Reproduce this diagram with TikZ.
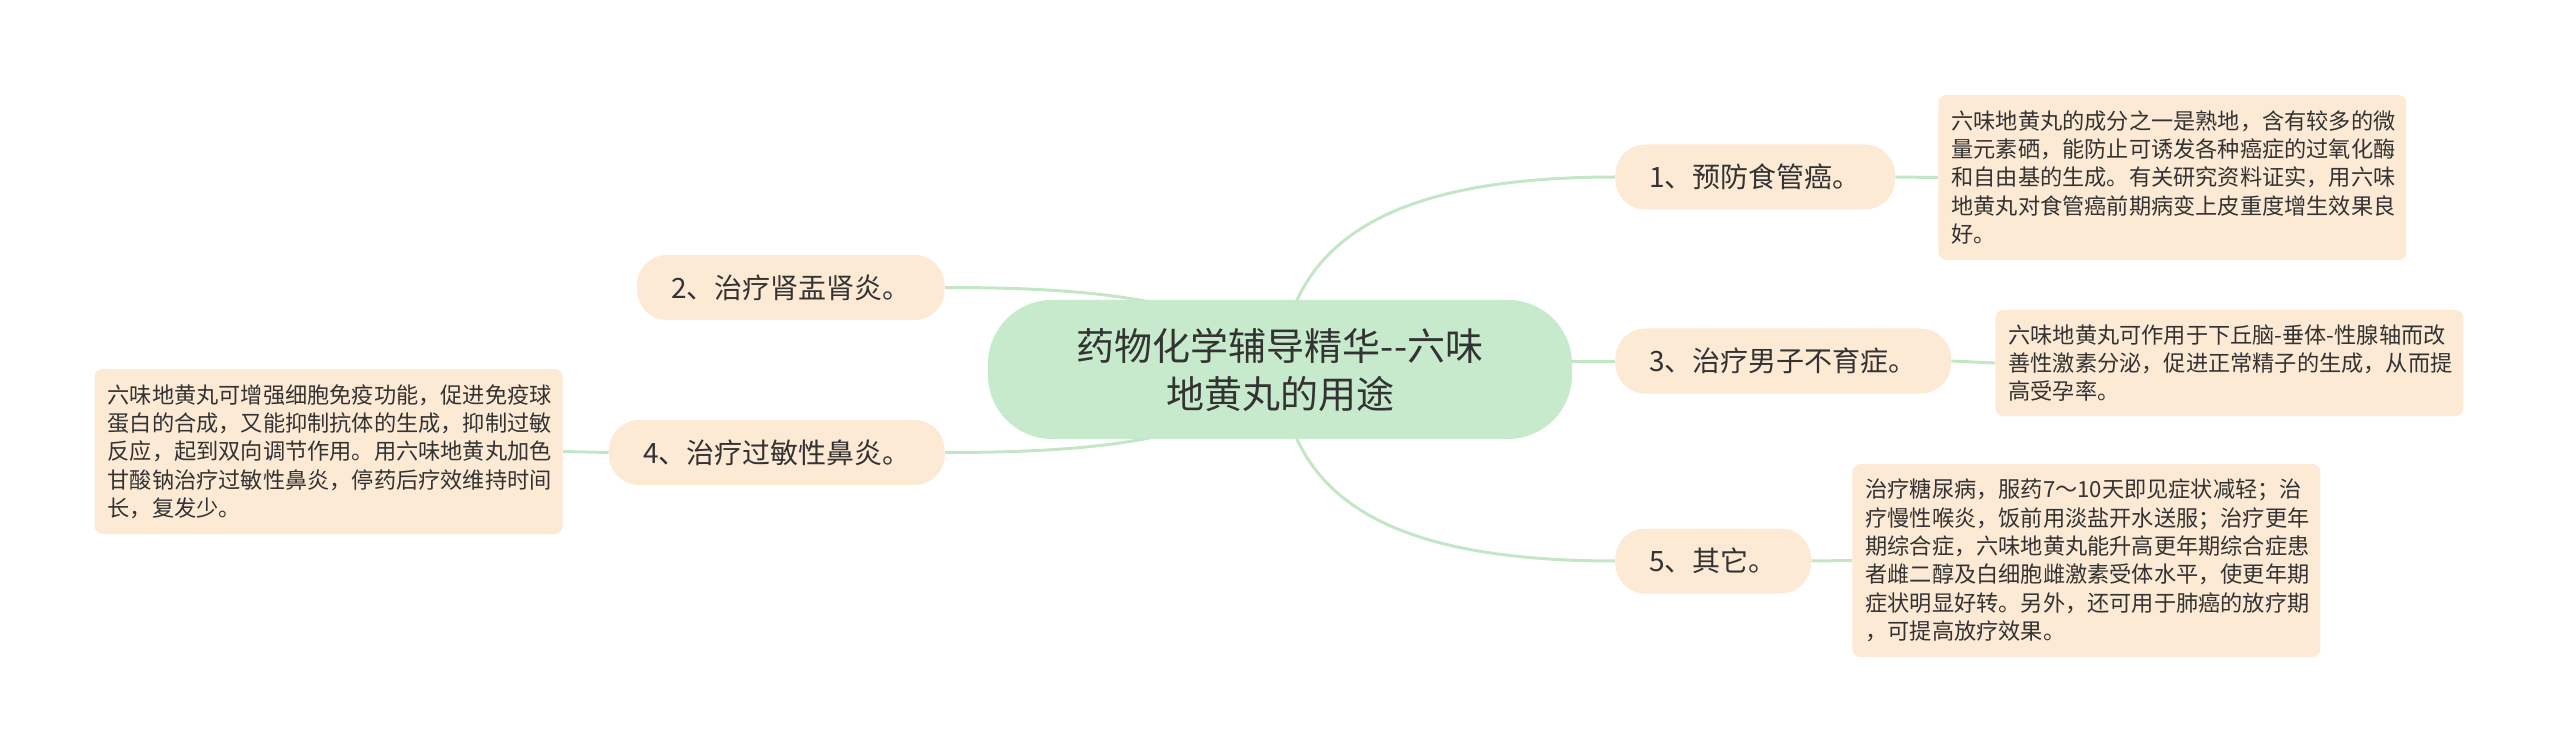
\documentclass[tikz,border=0pt]{standalone}
\usepackage{fontspec}
\setmainfont{Noto Sans CJK SC}
\usepackage{xcolor}
\usetikzlibrary{backgrounds}

\definecolor{rootgreen}{HTML}{C6EACB}
\definecolor{branchpeach}{HTML}{FDEAD5}
\definecolor{linkgreen}{HTML}{C3E7C6}
\definecolor{inktext}{HTML}{333333}

\begin{document}
\begin{tikzpicture}[x=0.5pt, y=-0.5pt,
    root/.style={fill=rootgreen, rounded corners=32pt, align=center, text=inktext,
        font=\fontsize{19pt}{24pt}\selectfont, minimum width=292pt, minimum height=69.5pt, inner sep=0pt},
    branch/.style={fill=branchpeach, rounded corners=15pt, text=inktext,
        font=\fontsize{14pt}{17pt}\selectfont, inner xsep=17pt, inner ysep=0pt, minimum height=32.5pt},
    leaf/.style={fill=branchpeach, rounded corners=4pt, text=inktext, align=left,
        font=\fontsize{11.1pt}{14.15pt}\selectfont, text width=221pt, inner xsep=6.5pt, inner ysep=0pt},
    link/.style={draw=linkgreen, line width=1.5pt}]
    \useasboundingbox (0,0) rectangle (2560,754);

    % --- Root ---
    \node[root] (c) at (1280,369.5) {药物化学辅导精华-{}-六味\\地黄丸的用途};

    % --- Branches ---
    \node[branch, anchor=west] (n1) at (1615,177) {1、预防食管癌。};
    \node[branch, anchor=east] (n2) at (945,287.5) {2、治疗肾盂肾炎。};
    \node[branch, anchor=west] (n3) at (1615,361) {3、治疗男子不育症。};
    \node[branch, anchor=east] (n4) at (945,452.5) {4、治疗过敏性鼻炎。};
    \node[branch, anchor=west] (n5) at (1615,561) {5、其它。};

    % --- Details ---
    \node[leaf, anchor=west, minimum height=82.5pt] (d1) at (1938,177.5)
        {六味地黄丸的成分之一是熟地，含有较多的微\\量元素硒，能防止可诱发各种癌症的过氧化酶\\和自由基的生成。有关研究资料证实，用六味\\地黄丸对食管癌前期病变上皮重度增生效果良\\好。};
    \node[leaf, anchor=west, minimum height=53pt] (d3) at (1995,363)
        {六味地黄丸可作用于下丘脑-垂体-性腺轴而改\\善性激素分泌，促进正常精子的生成，从而提\\高受孕率。};
    \node[leaf, anchor=west, minimum height=96.5pt] (d5) at (1852,560.5)
        {治疗糖尿病，服药7～10天即见症状减轻；治\\疗慢性喉炎，饭前用淡盐开水送服；治疗更年\\期综合症，六味地黄丸能升高更年期综合症患\\者雌二醇及白细胞雌激素受体水平，使更年期\\症状明显好转。另外，还可用于肺癌的放疗期\\，可提高放疗效果。};
    \node[leaf, anchor=east, minimum height=82.5pt] (d4) at (563,451.5)
        {六味地黄丸可增强细胞免疫功能，促进免疫球\\蛋白的合成，又能抑制抗体的生成，抑制过敏\\反应，起到双向调节作用。用六味地黄丸加色\\甘酸钠治疗过敏性鼻炎，停药后疗效维持时间\\长，复发少。};

    % --- Links ---
    \begin{pgfonlayer}{background}
        \draw[link] (c.center) .. controls (1290,235) and (1400,177) .. (n1.west);
        \draw[link] (c.center) .. controls (1230,300) and (1100,287.5) .. (n2.east);
        \draw[link] (c.center |- n3.west) -- (n3.west);
        \draw[link] (c.center) .. controls (1230,440) and (1100,452.5) .. (n4.east);
        \draw[link] (c.center) .. controls (1290,505) and (1400,561) .. (n5.west);
        \draw[link] (n1.east) -- (d1.west);
        \draw[link] (n3.east) -- (d3.west);
        \draw[link] (n5.east) -- (d5.west);
        \draw[link] (n4.west) -- (d4.east);
    \end{pgfonlayer}
\end{tikzpicture}
\end{document}
